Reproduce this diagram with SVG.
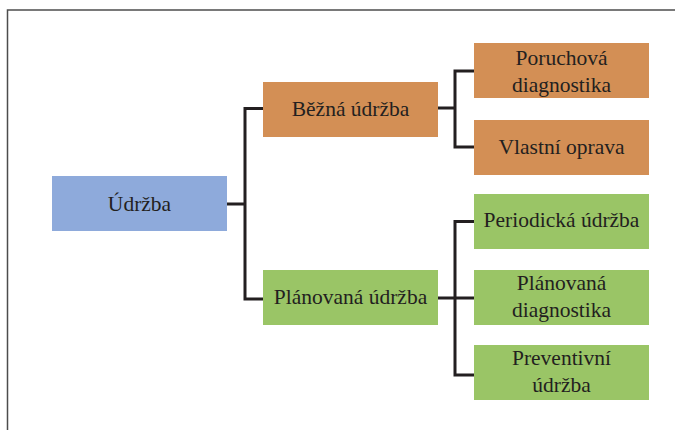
<svg xmlns="http://www.w3.org/2000/svg" width="675" height="430" viewBox="0 0 675 430">
<style>
.t{font-family:'Liberation Serif','Times New Roman',serif;font-size:21.5px;fill:#231f20;text-anchor:middle}
.or{fill:#d38f55}
.gr{fill:#9ac566}
.bl{fill:#8eaadb}
.c{fill:none;stroke:#231f20;stroke-width:3;stroke-linejoin:miter}
</style>
<rect width="675" height="430" fill="#fff"/>
<rect x="7.5" y="10" width="700" height="450" fill="none" stroke="#4d4d4d" stroke-width="1.5"/>
<g id="connectors">
<path class="c" d="M227 204 H245 M263 108.5 H245 V299 H263"/>
<path class="c" d="M438 108 H455 M474 71 H455 V147 H474"/>
<path class="c" d="M438 298 H474 M474 221.5 H455 V375 H474"/>
</g>
<g id="udrzba"><rect class="bl" x="52" y="176" width="175" height="55"/><text class="t" x="139.5" y="211">Údržba</text></g>
<g id="bezna"><rect class="or" x="263" y="82" width="175" height="55"/><text class="t" x="350.5" y="116">Běžná údržba</text></g>
<g id="planovana"><rect class="gr" x="263" y="270" width="175" height="55"/><text class="t" x="350.5" y="304">Plánovaná údržba</text></g>
<g id="poruchova"><rect class="or" x="474" y="43" width="175" height="55"/><text class="t" x="561.5" y="65">Poruchová</text><text class="t" x="561.5" y="91.5">diagnostika</text></g>
<g id="vlastni"><rect class="or" x="474" y="120" width="175" height="55"/><text class="t" x="561.5" y="154">Vlastní oprava</text></g>
<g id="periodicka"><rect class="gr" x="474" y="194" width="175" height="55"/><text class="t" x="561.5" y="227">Periodická údržba</text></g>
<g id="planovana-diag"><rect class="gr" x="474" y="270" width="175" height="55"/><text class="t" x="561.5" y="290">Plánovaná</text><text class="t" x="561.5" y="316.5">diagnostika</text></g>
<g id="preventivni"><rect class="gr" x="474" y="345" width="175" height="55"/><text class="t" x="561.5" y="365">Preventivní</text><text class="t" x="561.5" y="391.5">údržba</text></g>
</svg>
